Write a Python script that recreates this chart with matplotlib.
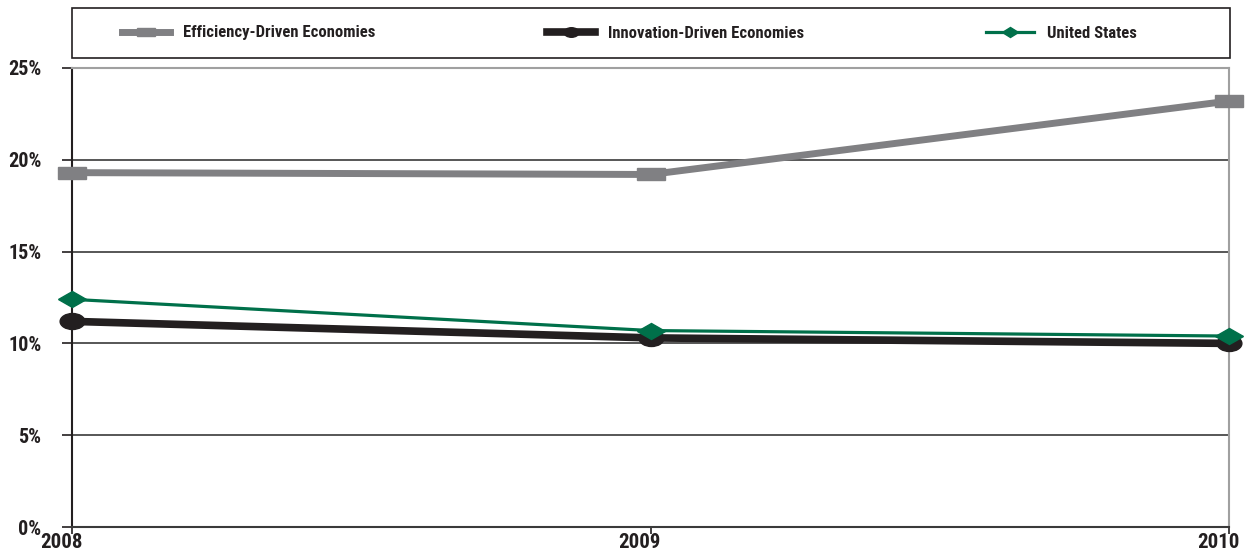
import matplotlib.pyplot as plt
from matplotlib import font_manager as fm
from matplotlib.lines import Line2D
from matplotlib.markers import MarkerStyle
from matplotlib.patches import Rectangle
from matplotlib.transforms import Affine2D, ScaledTranslation

years = [2008, 2009, 2010]
efficiency = [19.3, 19.2, 23.2]
innovation = [11.2, 10.3, 10.0]
united_states = [12.4, 10.7, 10.4]
series_names = ["Efficiency-Driven Economies", "Innovation-Driven Economies", "United States"]
y_ticks = [0, 5, 10, 15, 20, 25]
y_labels = ["0%", "5%", "10%", "15%", "20%", "25%"]

# pick a narrow sans if one is installed
installed = {f.name: f for f in fm.fontManager.ttflist}
narrow = None
for name in ["Liberation Sans Narrow", "Roboto Condensed", "Open Sans Condensed", "DejaVu Sans Condensed"]:
    if name in installed:
        narrow = name
        break
if narrow is None:
    for f in fm.fontManager.ttflist:
        if f.stretch in ("condensed", "semi-condensed") or "Condensed" in f.fname:
            narrow = f.name
            break
if narrow is None:
    narrow = "Roboto"
plt.rcParams["font.family"] = [narrow, "DejaVu Sans"]
plt.rcParams["font.stretch"] = "condensed"
plt.rcParams["font.weight"] = "bold"

fig = plt.figure(figsize=(12.46, 5.5), dpi=100)
ax = fig.add_axes([0.0578, 0.0418, 0.9286, 0.8346])

# wide markers, the chart is stretched horizontally
wide_sq = MarkerStyle("s", transform=Affine2D().scale(2.3, 1.0))
wide_circ = MarkerStyle("o", transform=Affine2D().scale(1.55, 1.0))
wide_dia = MarkerStyle("D", transform=Affine2D().scale(1.8, 1.0))

styles = [
    dict(color="#808083", lw=5, marker=wide_sq, markersize=9),
    dict(color="#231f20", lw=5.5, marker=wide_circ, markersize=11.5),
    dict(color="#00704a", lw=2.3, marker=wide_dia, markersize=8),
]
for vals, name, st, z in zip([efficiency, innovation, united_states], series_names, styles, [3, 4, 5]):
    ax.plot(years, vals, label=name, clip_on=False, zorder=z, **st)

ax.set_xlim(2008, 2010)
ax.set_ylim(0, 25)
ax.set_xticks(years)
ax.set_xticklabels([str(y) for y in years])
ax.set_yticks(y_ticks)
ax.set_yticklabels(y_labels)

# horizontal rules
for v in y_ticks[1:-1]:
    ax.axhline(v, color="#3a3a3a", lw=1.2, zorder=1)

ax.spines["top"].set_color("#a0a0a0")
ax.spines["top"].set_linewidth(1.5)
ax.spines["right"].set_color("#a0a0a0")
ax.spines["right"].set_linewidth(1.5)
ax.spines["left"].set_color("#231f20")
ax.spines["left"].set_linewidth(1.5)
ax.spines["bottom"].set_color("#3a3a3a")
ax.spines["bottom"].set_linewidth(1.5)

ax.tick_params(axis="y", length=7, width=1.2, pad=15, labelsize=14.5, colors="#231f20")
ax.tick_params(axis="x", length=5, width=1.2, pad=-1, labelsize=15, colors="#231f20")

# year labels sit a little left of their ticks
shift = ScaledTranslation(-11 / 100, 0, fig.dpi_scale_trans)
for lbl in ax.get_xticklabels():
    lbl.set_transform(lbl.get_transform() + shift)

# legend box across the top
W, H = 1246, 550
fig.patches.append(Rectangle((72 / W, 1 - 58 / H), 1158 / W, 50 / H, transform=fig.transFigure,
                             fill=False, edgecolor="#231f20", lw=1.2))
handle_x = [122, 547, 986]
for name, st, hx in zip(series_names, styles, handle_x):
    h = Line2D([], [], color=st["color"], lw=st["lw"], marker=st["marker"],
               markersize=st["markersize"] * 0.6)
    leg = fig.legend(handles=[h], labels=[name], loc="center left",
                     bbox_to_anchor=(hx / W, 1 - 33 / H), bbox_transform=fig.transFigure,
                     frameon=False, fontsize=12, handlelength=2.9, handletextpad=0.78,
                     borderaxespad=0, borderpad=0)
    for t in leg.get_texts():
        t.set_color("#231f20")

fig.savefig("out.png", dpi=100)
